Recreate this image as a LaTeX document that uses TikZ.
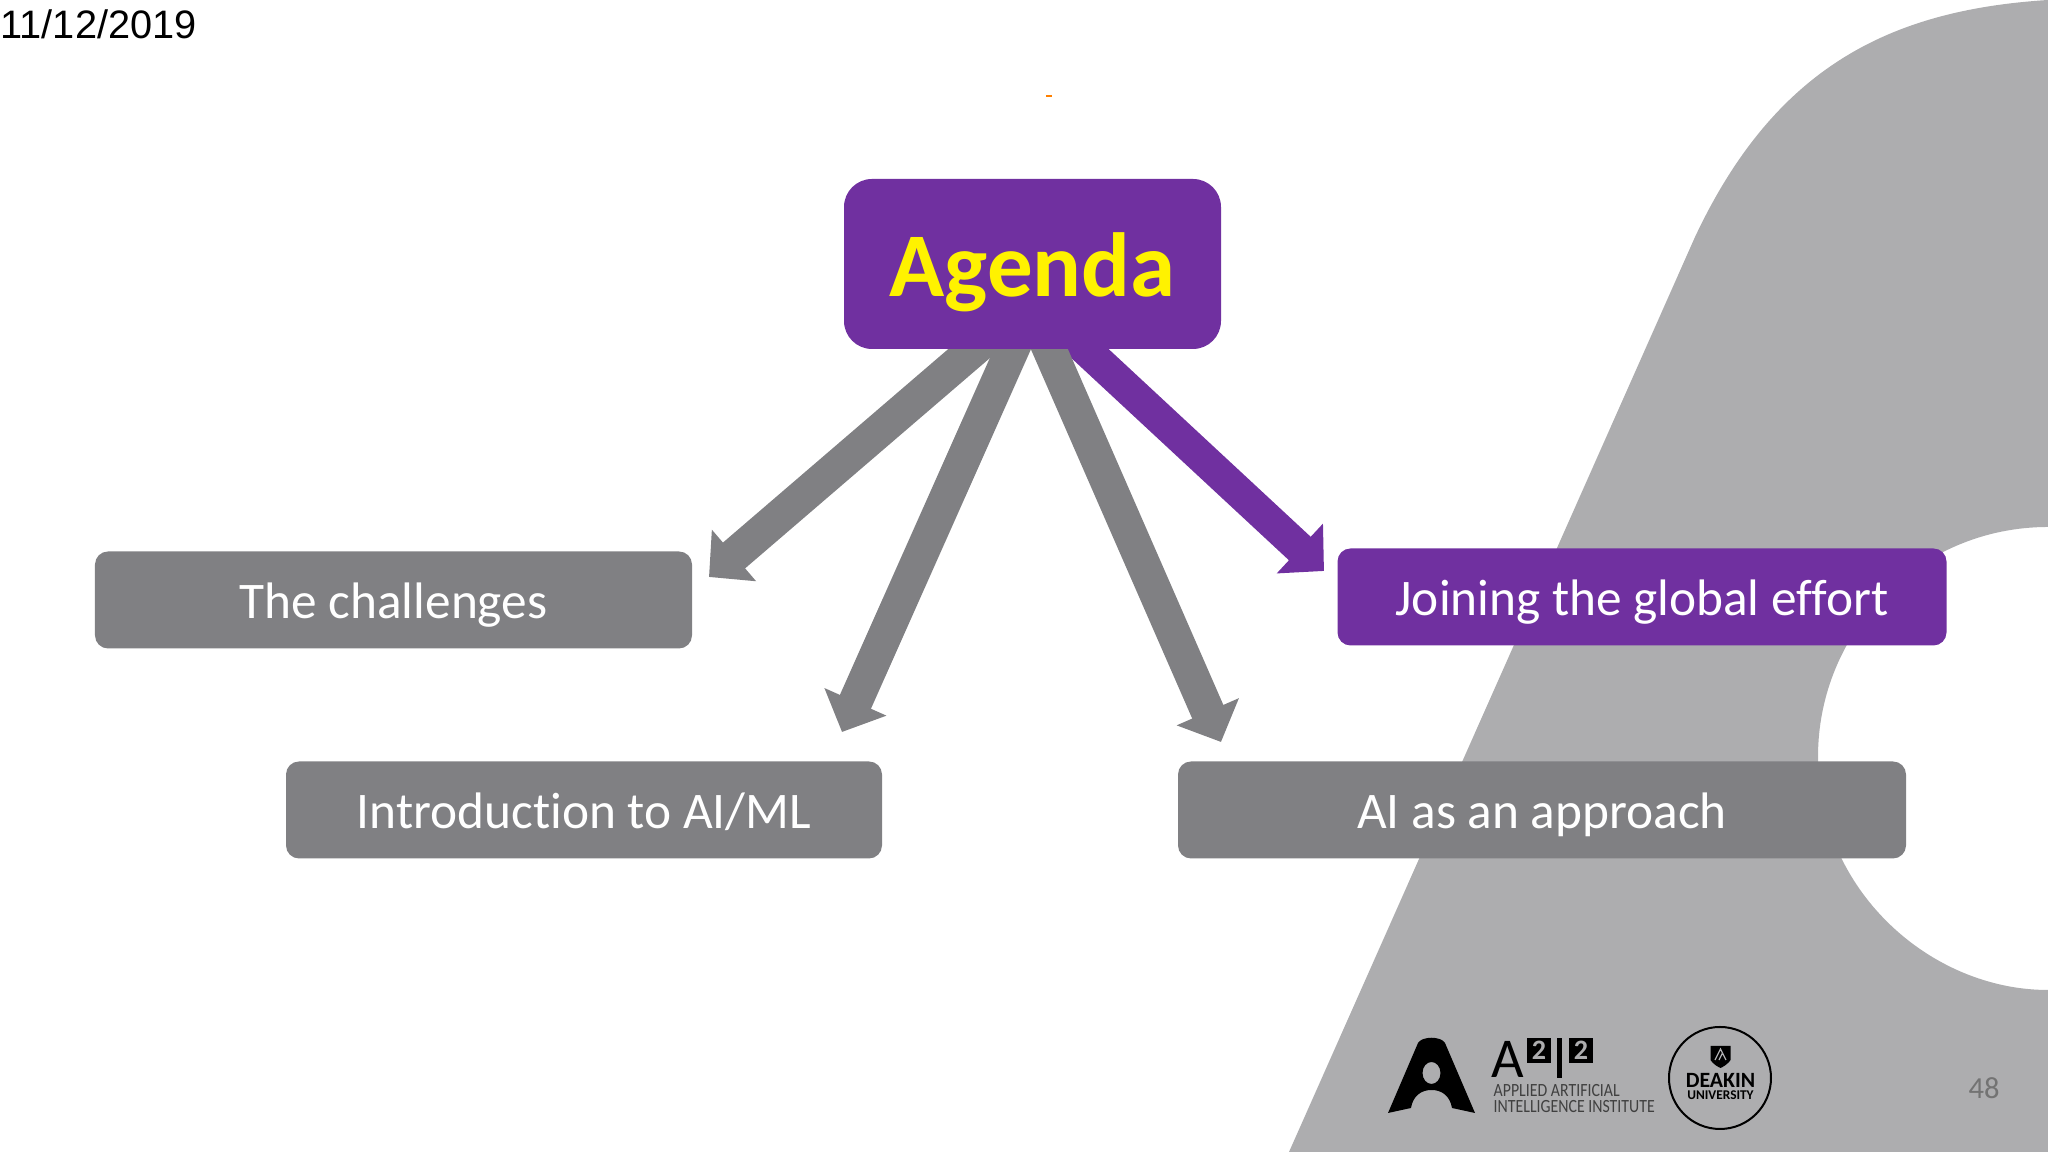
\documentclass[tikz,border=0pt]{standalone}
\usepackage{fontspec}
\setmainfont[RawFeature=-liga]{Carlito}
\newfontfamily\arialfont{Liberation Sans}
\newfontfamily\etroitfont[FakeStretch=0.85]{Carlito}
\usetikzlibrary{arrows.meta,backgrounds}
\definecolor{violet_a}{HTML}{7030A0}
\definecolor{gris_a}{HTML}{808083}
\definecolor{gris_fond}{HTML}{ADADAF}
\begin{document}
\begin{tikzpicture}
	\tikzstyle{boite}=[rounded corners=.13cm,text=white,inner sep=0pt,text height=.48cm,text depth=.10cm,font=\fontsize{14.6}{17}\selectfont]
	\tikzstyle{boite_grise}=[boite,fill=gris_a,minimum width=5.96cm,minimum height=.97cm]
	\tikzstyle{boite_violette}=[boite,fill=violet_a,minimum width=6.09cm,minimum height=.97cm]
	\tikzstyle{fleche_grise}=[line width=.34cm,draw=gris_a,-{Triangle[length=.33cm,width=.66cm]}]
	\tikzstyle{fleche_violette}=[line width=.32cm,draw=violet_a,-{Triangle[length=.33cm,width=.66cm]}]
	\tikzstyle{deux}=[fill=black,text=gris_fond,minimum width=.24cm,minimum height=.25cm,inner sep=0pt,font=\fontsize{8}{9}\selectfont\bfseries]
	\useasboundingbox (0,0) rectangle (20.48,11.52);

	\node[fill=violet_a,rounded corners=.28cm,text=yellow,minimum width=3.77cm,minimum height=1.70cm,inner sep=0pt,text height=.84cm,text depth=.18cm,font=\fontsize{25.9}{30}\selectfont\bfseries] (agenda) at (10.325,8.88) {Agenda};
	\node[boite_grise,minimum width=5.97cm] (defis) at (3.935,5.52) {The challenges};
	\node[boite_grise] (intro) at (5.84,3.42) {Introduction to AI/ML};
	\node[boite_grise,minimum width=7.28cm] (approche) at (15.42,3.42) {AI as an approach};
	\node[boite_violette] (effort) at (16.42,5.55) {Joining the global effort};

	\coordinate (pointe_defis) at (7.09,5.75);
	\coordinate (pointe_intro) at (8.42,4.20);
	\coordinate (pointe_approche) at (12.21,4.10);
	\coordinate (pointe_effort) at (13.24,5.81);

	\begin{pgfonlayer}{background}
		% fond
		\fill[gris_fond] (12.89,0) -- (16.95,9.15) .. controls (17.75,10.85) and (18.90,11.42) .. (20.48,11.52) -- (20.48,6.25) .. controls (19.20,6.25) and (18.18,5.22) .. (18.18,3.95) .. controls (18.18,2.62) and (19.30,1.62) .. (20.48,1.62) -- (20.48,0) -- cycle;
		\draw[fleche_violette] ([xshift=.21cm,yshift=.3cm]agenda.south) -- (pointe_effort);
		\draw[fleche_grise] ([xshift=-.24cm,yshift=.3cm]agenda.south) -- (pointe_defis);
		\draw[fleche_grise] ([xshift=-.07cm,yshift=.3cm]agenda.south) -- (pointe_intro);
		\draw[fleche_grise] ([xshift=.04cm,yshift=.3cm]agenda.south) -- (pointe_approche);
	\end{pgfonlayer}

	\node[inner sep=0pt,anchor=west,font=\arialfont\fontsize{11.3}{13}\selectfont] (date) at (0,11.28) {11/12/2019};
	\node[inner sep=0pt,text=black!55,font=\fontsize{8.7}{10}\selectfont] (page) at (19.84,.64) {48};
	\fill[orange] (10.46,10.55) rectangle (10.52,10.57);

	% logo A
	\fill[black,even odd rule] (13.88,.39) -- (14.18,1.09) .. controls (14.22,1.16) and (14.41,1.16) .. (14.45,1.09) -- (14.75,.39) -- (14.52,.44) .. controls (14.50,.56) and (14.42,.62) .. (14.315,.62) .. controls (14.21,.62) and (14.13,.56) .. (14.11,.44) -- cycle (14.315,.79) ellipse (.09 and .11);
	\node[inner sep=0pt,anchor=south west,font=\fontsize{16}{18}\selectfont] (grand_a) at (14.91,.74) {A};
	\node[deux] (deux_a) at (15.39,1.015) {2};
	\fill (15.565,.74) rectangle (15.615,1.14);
	\node[deux] (deux_b) at (15.81,1.015) {2};
	\node[inner sep=0pt,anchor=west,align=left,text=black!75,font=\etroitfont\fontsize{5.3}{4.55}\selectfont] (institut) at (14.93,.53) {APPLIED ARTIFICIAL\\INTELLIGENCE INSTITUTE};

	% logo Deakin
	\draw[line width=.02cm] (17.20,.74) circle (.51);
	\fill (17.105,1.06) -- (17.306,1.06) -- (17.306,.92) .. controls (17.28,.88) and (17.23,.85) .. (17.205,.84) .. controls (17.18,.85) and (17.13,.88) .. (17.105,.92) -- cycle;
	\draw[gris_fond,line width=.012cm] (17.15,.92) -- (17.205,1.03) -- (17.26,.92) (17.19,.92) -- (17.225,.99);
	\node[inner sep=0pt,font=\fontsize{6.2}{7}\selectfont\bfseries] (deakin) at (17.205,.715) {DEAKIN};
	\node[inner sep=0pt,font=\fontsize{3.8}{4}\selectfont\bfseries] (universite) at (17.205,.565) {UNIVERSITY};
\end{tikzpicture}
\end{document}
